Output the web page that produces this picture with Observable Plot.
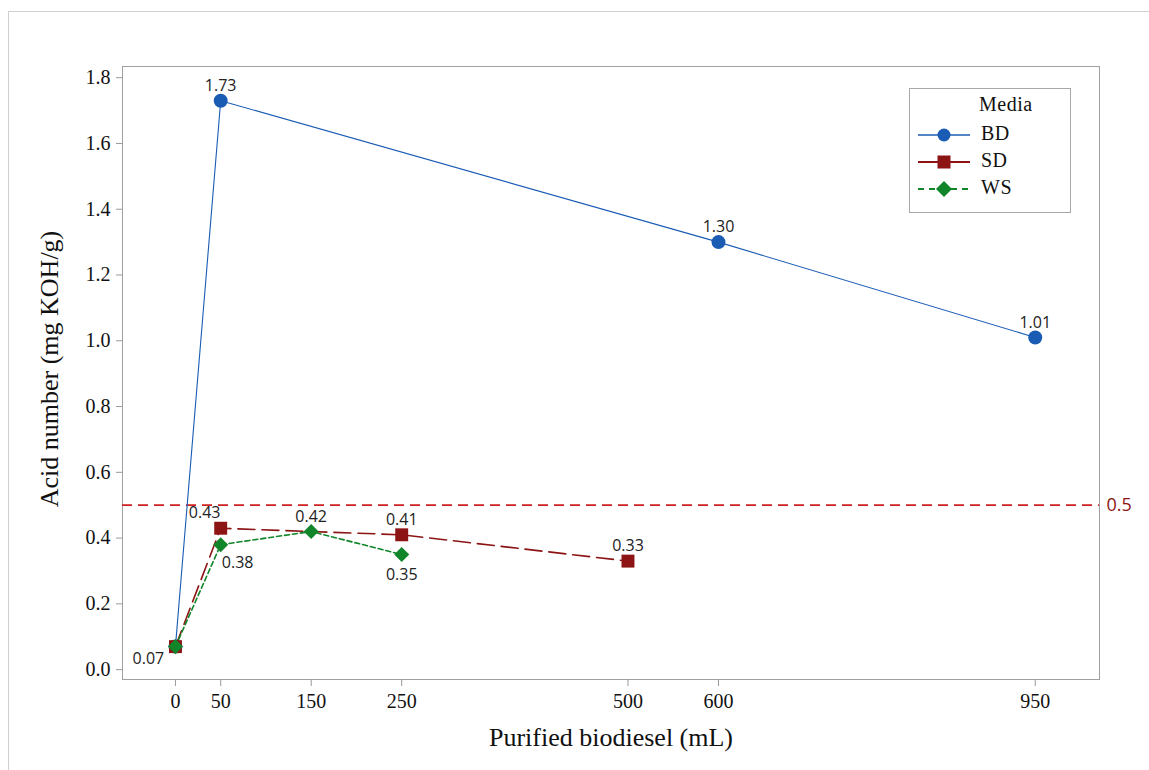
<!DOCTYPE html>
<html>
<head>
<meta charset="utf-8">
<script src="https://cdn.jsdelivr.net/npm/d3@7"></script>
<script src="https://cdn.jsdelivr.net/npm/@observablehq/plot@0.6"></script>
<style>
  html, body { margin: 0; padding: 0; background: #fff; }
  #wrap { position: relative; width: 1149px; height: 770px; overflow: hidden; }
  #border { position: absolute; left: 8px; top: 11px; width: 1160px; height: 800px; border: 1px solid #cfcfcf; pointer-events: none; }
  #legend { position: absolute; left: 909px; top: 88px; width: 160px; height: 123px; border: 1px solid #a8a8a8; background: #fff;
    font-family: "Liberation Serif", "DejaVu Serif", serif; font-size: 20px; color: #111; letter-spacing: 0.5px; }
  #legend .title { position: absolute; left: 69px; top: 4px; }
  #legend .item { position: absolute; left: 8px; height: 20px; }
  #legend .item svg { position: absolute; left: 0; top: 0; }
  #legend .item span { position: absolute; left: 63px; top: -3px; }
</style>
</head>
<body>
<div id="wrap"><div id="border"></div><div id="legend"></div></div>
<script>
// ---- data ----
const bdX = [0, 50, 600, 950];
const bdY = [0.07, 1.73, 1.30, 1.01];
const sdX = [0, 50, 250, 500];
const sdY = [0.07, 0.43, 0.41, 0.33];
const wsX = [0, 50, 150, 250];
const wsY = [0.07, 0.38, 0.42, 0.35];
const seriesNames = ["BD", "SD", "WS"];
const xTicks = [0, 50, 150, 250, 500, 600, 950];
const yTicks = [0, 0.2, 0.4, 0.6, 0.8, 1.0, 1.2, 1.4, 1.6, 1.8];
const limitValue = 0.5;
const xTitle = "Purified biodiesel (mL)";
const yTitle = "Acid number (mg KOH/g)";
const legendTitle = "Media";

const colors = {BD: "#1a5cb4", SD: "#8c1414", WS: "#11852a"};
const squareDiamond = {
  draw(context, size) {
    const h = Math.sqrt(size / 2);
    context.moveTo(0, -h); context.lineTo(h, 0); context.lineTo(0, h); context.lineTo(-h, 0); context.closePath();
  }
};

const mk = (name, xs, ys) => xs.map((x, i) => ({series: name, x, y: ys[i], label: ys[i].toFixed(2)}));
const bd = mk("BD", bdX, bdY);
const sd = mk("SD", sdX, sdY);
const ws = mk("WS", wsX, wsY);

const serif = "'Liberation Serif', 'DejaVu Serif', serif";
const sans = "'Open Sans', 'Noto Sans', sans-serif";
const labelStyle = {fontFamily: sans, fontSize: 16, fill: "#222"};

const chart = Plot.plot({
  width: 1149,
  height: 770,
  marginLeft: 122,
  marginRight: 50,
  marginTop: 66,
  marginBottom: 91,
  style: {background: "transparent", fontFamily: serif, fontSize: "18px"},
  x: {domain: [-58.5, 1021], ticks: xTicks},
  y: {domain: [-0.03, 1.834], ticks: yTicks},
  marks: [
    Plot.frame({stroke: "#a0a0a0"}),
    Plot.axisX({ticks: xTicks, tickSize: 7, stroke: "#999", label: null, tickFormat: () => ""}),
    Plot.axisY({ticks: yTicks, tickSize: 6, stroke: "#999", label: null, tickFormat: () => ""}),
    Plot.text(xTicks, {x: d => d, frameAnchor: "bottom", lineAnchor: "top", dy: 14, text: d => String(d), fontSize: 20, fontFamily: serif, fill: "#111", ariaLabel: "xtick-labels"}),
    Plot.text(yTicks, {y: d => d, frameAnchor: "left", textAnchor: "end", dx: -12, text: d => d.toFixed(1), fontSize: 20, fontFamily: serif, fill: "#111", ariaLabel: "ytick-labels"}),
    Plot.text([xTitle], {frameAnchor: "bottom", textAnchor: "middle", dy: 66, fontSize: 26, fontFamily: serif, fill: "#111"}),
    Plot.text([yTitle], {frameAnchor: "left", textAnchor: "middle", rotate: -90, dx: -73, dy: -4, fontSize: 26, fontFamily: serif, fill: "#111"}),
    Plot.ruleY([limitValue], {stroke: "#d02020", strokeWidth: 1.8, strokeDasharray: "10,6"}),
    Plot.text([limitValue], {x: () => 1021, y: d => d, text: d => String(d), textAnchor: "start", dx: 7, fontFamily: sans, fontSize: 18, fill: "#8c1414"}),
    Plot.line(bd, {x: "x", y: "y", stroke: colors.BD, strokeWidth: 1.1}),
    Plot.line(sd, {x: "x", y: "y", stroke: colors.SD, strokeWidth: 1.6, strokeDasharray: "17,7"}),
    Plot.line(ws, {x: "x", y: "y", stroke: colors.WS, strokeWidth: 1.6, strokeDasharray: "5,3"}),
    Plot.dot(bd, {x: "x", y: "y", r: 7, symbol: "circle", fill: colors.BD}),
    Plot.dot(sd, {x: "x", y: "y", r: 7.3, symbol: "square", fill: colors.SD}),
    Plot.dot(ws, {x: "x", y: "y", r: 6, symbol: squareDiamond, fill: colors.WS}),
    // labels above points
    Plot.text([...bd.slice(1), sd[2], sd[3], ws[2]], {x: "x", y: "y", text: "label", dy: -15, ...labelStyle}),
    // upper-left
    Plot.text([sd[1]], {x: "x", y: "y", text: "label", dx: -16, dy: -15, ...labelStyle}),
    // lower-right
    Plot.text([ws[1]], {x: "x", y: "y", text: "label", dx: 17, dy: 18, ...labelStyle}),
    // below
    Plot.text([ws[3]], {x: "x", y: "y", text: "label", dy: 20, ...labelStyle}),
    // lower-left
    Plot.text([bd[0]], {x: "x", y: "y", text: "label", dx: -27, dy: 12, ...labelStyle})
  ]
});
d3.select(chart).selectAll('g[aria-label="xtick-labels"] text, g[aria-label="ytick-labels"] text').attr("letter-spacing", "1.2");
document.getElementById("wrap").prepend(chart);

// legend
const lg = document.getElementById("legend");
const t = document.createElement("div");
t.className = "title"; t.textContent = legendTitle; lg.appendChild(t);
const dashes = {BD: null, SD: null, WS: "6,5"};
const widths = {BD: 1.3, SD: 2, WS: 2};
seriesNames.forEach((name, i) => {
  const it = document.createElement("div");
  it.className = "item";
  it.style.top = (36 + i * 27) + "px";
  const c = colors[name];
  let marker;
  if (name === "BD") marker = `<circle cx="26" cy="10" r="6.5" fill="${c}"/>`;
  else if (name === "SD") marker = `<rect x="19.5" y="3.5" width="13" height="13" fill="${c}"/>`;
  else marker = `<path d="M26,2 L34,10 L26,18 L18,10 Z" fill="${c}"/>`;
  it.innerHTML = `<svg width="55" height="20"><line x1="0" y1="10" x2="52" y2="10" stroke="${c}" stroke-width="${widths[name]}" ${dashes[name] ? `stroke-dasharray="${dashes[name]}"` : ""}/>${marker}</svg><span>${name}</span>`;
  lg.appendChild(it);
});
</script>
</body>
</html>
